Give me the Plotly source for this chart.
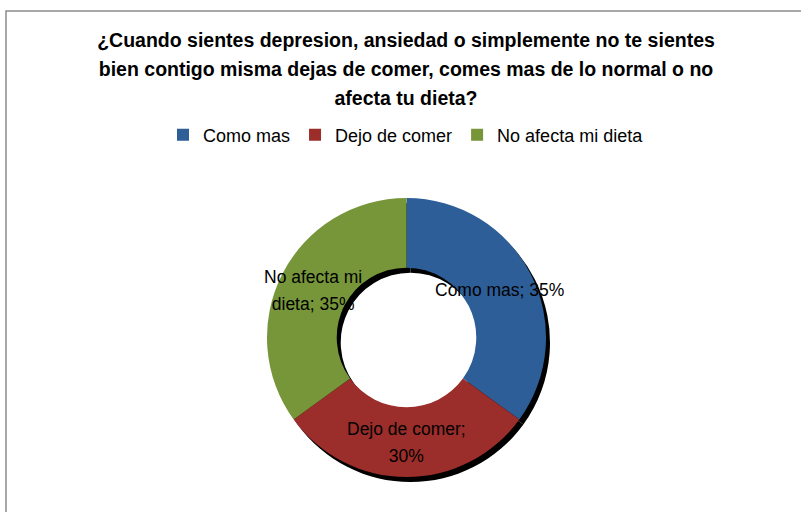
import math
import plotly.graph_objects as go

# ---- data ----
categories = ["Como mas", "Dejo de comer", "No afecta mi dieta"]
values = [35, 30, 35]
label_lines = [["Como mas; 35%"], ["Dejo de comer;", "30%"], ["No afecta mi", "dieta; 35%"]]
title_lines = [
    "¿Cuando sientes depresion, ansiedad o simplemente no te sientes",
    "bien contigo misma dejas de comer, comes mas de lo normal o no",
    "afecta tu dieta?",
]
colors = ["#2E5E98", "#9B2D2A", "#77963A"]

# ---- layout geometry ----
W, H = 801, 512
CX, CY, R = 406.5, 337.5, 139.5
HOLE = 0.5
SHX, SHY = 4, 5
FONT = "Liberation Sans, Arial, sans-serif"


def dom(cx, cy, r):
    return dict(x=[(cx - r) / W, (cx + r) / W], y=[(H - (cy + r)) / H, (H - (cy - r)) / H])


fig = go.Figure()
# drop shadow ring
fig.add_trace(go.Pie(
    values=values, hole=HOLE, sort=False, direction="clockwise", rotation=0,
    marker=dict(colors=["#000000"] * len(values), line=dict(width=0)),
    textinfo="none", hoverinfo="skip", showlegend=False,
    domain=dom(CX + SHX, CY + SHY, R),
))
fig.add_trace(go.Pie(
    labels=categories, values=values, hole=HOLE, sort=False, direction="clockwise", rotation=0,
    marker=dict(colors=colors, line=dict(width=0)),
    textinfo="none", showlegend=True,
    domain=dom(CX, CY, R),
))

# data labels at middle of ring, mid angle of each slice
total = sum(values)
rmid = R * (1 + HOLE) / 2
cum = 0
for v, lines in zip(values, label_lines):
    mid = (cum + v / 2) / total * 2 * math.pi
    cum += v
    x = CX + rmid * math.sin(mid)
    y = CY - rmid * math.cos(mid)
    fig.add_annotation(
        x=x / W, y=(H - y) / H, xref="paper", yref="paper",
        text="<span style='font-size:17.5px'>" + "<br>".join(lines) + "</span>",
        showarrow=False, xanchor="center", yanchor="middle",
        font=dict(family=FONT, size=20.8, color="#000000"),
    )

fig.add_shape(type="rect", xref="paper", yref="paper",
              x0=6 / W, x1=1.05, y0=-0.05, y1=1 - 11 / H,
              line=dict(color="#8C8C8C", width=1.5))

fig.update_layout(
    width=W, height=H,
    margin=dict(l=0, r=0, t=0, b=0),
    paper_bgcolor="white", plot_bgcolor="white",
    title=dict(
        text="<span style='font-size:19.5px'><b>" + "<br>".join(title_lines) + "</b></span>",
        x=406 / W, xanchor="center", xref="paper",
        y=1 - 47 / H, yanchor="top", yref="container",
        font=dict(family=FONT, size=22.3, color="#000000"),
    ),
    legend=dict(
        orientation="h", x=406 / W, xanchor="center", y=1 - 135 / H, yanchor="middle",
        font=dict(family=FONT, size=18, color="#000000"),
        bgcolor="rgba(0,0,0,0)",
    ),
)

fig.write_html(
    "out.html",
    config={"displayModeBar": False},
    post_script="document.body.style.margin='0';document.body.style.padding='0';",
)
